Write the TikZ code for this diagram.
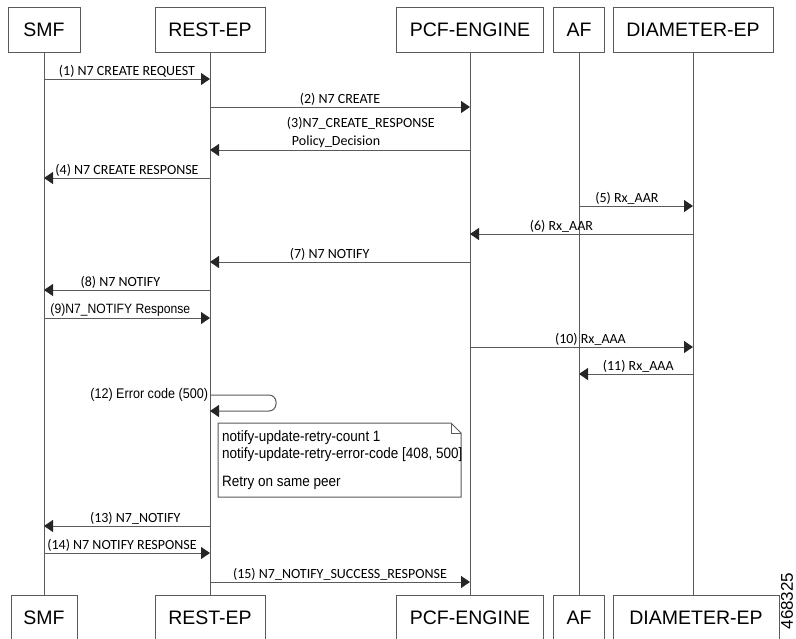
\documentclass[tikz,border=0pt]{standalone}
\usepackage{fontspec}
\setmainfont{Carlito}
\newfontfamily\arialfont{Liberation Sans}
\newfontfamily\narrowfont[FakeStretch=0.9]{Liberation Sans}
\usetikzlibrary{arrows.meta,calc}
\definecolor{linegray}{HTML}{5A5A5A}

\begin{document}
\begin{tikzpicture}[x=1pt,y=-1pt,>={Triangle[length=9pt,width=12pt,color=black!85]},
	actor/.style={draw=linegray,line width=1pt,minimum height=45pt,inner sep=0pt,
		font=\arialfont\fontsize{19.5}{21}\selectfont},
	life/.style={draw=linegray,line width=1pt},
	msg/.style={life,->},
	lbl/.style={font=\fontsize{14}{18}\selectfont,inner sep=1.5pt},
	nlbl/.style={font=\narrowfont\fontsize{13.5}{17}\selectfont,inner sep=1.5pt}]
	\useasboundingbox (0,0) rectangle (796,638);
	%participantes (topo)
	\node[actor,minimum width=72pt] (smf) at (44,29.5) {SMF};
	\node[actor,minimum width=110pt] (rest) at (210,29.5) {REST-EP};
	\node[actor,minimum width=147pt] (pcf) at (470,29.5) {PCF-ENGINE};
	\node[actor,minimum width=51pt] (af) at (579,29.5) {AF};
	\node[actor,minimum width=160pt] (dia) at (693,29.5) {DIAMETER-EP};
	%participantes (base)
	\node[actor,minimum width=66pt] (smf2) at (44,617.5) {SMF};
	\node[actor,minimum width=110pt] (rest2) at (210,617.5) {REST-EP};
	\node[actor,minimum width=147pt] (pcf2) at (470,617.5) {PCF-ENGINE};
	\node[actor,minimum width=51pt] (af2) at (579,617.5) {AF};
	\node[actor,minimum width=166pt] (dia2) at (696,617.5) {DIAMETER-EP};
	%linhas de vida
	\foreach \n in {smf,rest,pcf,af,dia}
		\draw[life] (\n.south) -- (\n |- \n2.north);
	%mensagens
	\draw[msg] (smf |- 0,79) -- node[lbl,above] (m1) {(1) N7 CREATE REQUEST} (rest |- 0,79);
	\draw[msg] (rest |- 0,107) -- node[lbl,above] (m2) {(2) N7 CREATE} (pcf |- 0,107);
	\draw[msg] (pcf |- 0,150) -- node[lbl,above,pos=.42,align=left] (m3) {(3)N7\_CREATE\_RESPONSE\\\hspace*{5pt}Policy\_Decision} (rest |- 0,150);
	\draw[msg] (rest |- 0,178) -- node[lbl,above] (m4) {(4) N7 CREATE RESPONSE} (smf |- 0,178);
	\draw[msg] (af |- 0,206) -- node[lbl,above,pos=.42] (m5) {(5) Rx\_AAR} (dia |- 0,206);
	\draw[msg] (dia |- 0,234) -- node[lbl,above,pos=.59] (m6) {(6) Rx\_AAR} (pcf |- 0,234);
	\draw[msg] (pcf |- 0,262) -- node[lbl,above,pos=.54] (m7) {(7) N7 NOTIFY} (rest |- 0,262);
	\draw[msg] (rest |- 0,290) -- node[lbl,above,pos=.54] (m8) {(8) N7 NOTIFY} (smf |- 0,290);
	\draw[msg] (smf |- 0,318) -- node[nlbl,above,pos=.46] (m9) {(9)N7\_NOTIFY Response} (rest |- 0,318);
	\draw[msg] (pcf |- 0,347) -- node[lbl,above,pos=.54] (m10) {(10) Rx\_AAA} (dia |- 0,347);
	\draw[msg] (dia |- 0,374) -- node[lbl,above,pos=.48] (m11) {(11) Rx\_AAA} (af |- 0,374);
	%auto-mensagem
	\draw[msg,rounded corners=7pt] (rest |- 0,395) node[nlbl,left,font=\narrowfont\fontsize{14}{17}\selectfont] (m12) {(12) Error code (500)}
		-- (276,395) -- (276,411) -- (rest |- 0,411);
	%nota
	\draw[life,fill=white] (218,423) -- (451,423) -- (461,433) -- (461,497) -- (218,497) -- cycle;
	\draw[life] (451,423) -- (451,433) -- (461,433);
	\node[nlbl,anchor=north west,align=left,inner sep=0pt,font=\narrowfont\fontsize{15}{17}\selectfont] (note) at (222,430)
		{notify-update-retry-count 1\\notify-update-retry-error-code [408, 500]\\[11pt]Retry on same peer};
	\draw[msg] (rest |- 0,526) -- node[lbl,above,pos=.45] (m13) {(13) N7\_NOTIFY} (smf |- 0,526);
	\draw[msg] (smf |- 0,553) -- node[lbl,above,pos=.47] (m14) {(14) N7 NOTIFY RESPONSE} (rest |- 0,553);
	\draw[msg] (rest |- 0,582) -- node[lbl,above] (m15) {(15) N7\_NOTIFY\_SUCCESS\_RESPONSE} (pcf |- 0,582);
	%id da figura
	\node[font=\arialfont\fontsize{17}{17}\selectfont,rotate=90,inner sep=0pt] (figid) at (787,601) {468325};
\end{tikzpicture}
\end{document}
